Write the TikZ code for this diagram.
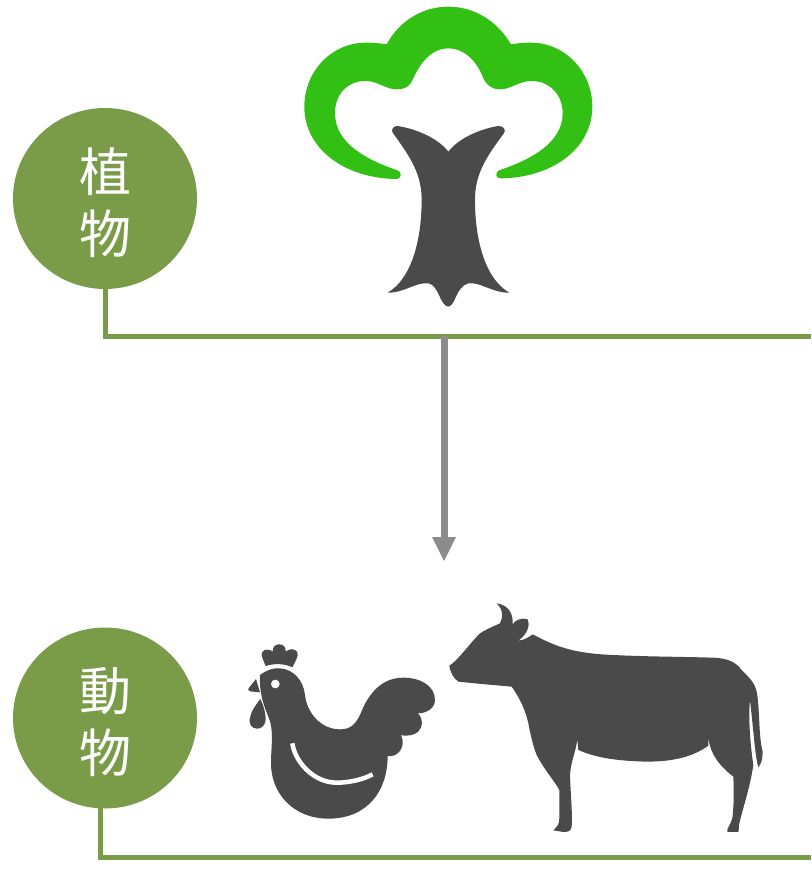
\documentclass[tikz,border=0pt]{standalone}
\usepackage{fontspec}
\newfontfamily\cjk{Noto Sans CJK TC}
\usetikzlibrary{arrows.meta,shapes.geometric}
\definecolor{leaf}{HTML}{7A9C48}
\definecolor{dark}{HTML}{4A4A4A}
\definecolor{crown}{HTML}{32C014}
\definecolor{arrowgray}{HTML}{8C8C8C}
\newcommand\lowchar[1]{\raisebox{-2pt}[\height][0pt]{#1}}
\tikzset{
  badge/.style={ellipse,fill=leaf,draw=none,minimum width=184pt,minimum height=181pt,inner sep=0pt,text=white,align=center,font=\cjk\fontsize{52}{62}\selectfont},
  rail/.style={draw=leaf,line width=5pt,line join=miter},
  flow/.style={draw=arrowgray,line width=7pt,-{Triangle[width=24pt,length=24pt,line width=0pt,fill=arrowgray]}},
  icon/.style={fill=dark,draw=none},
  zoomed/.style={x=0.3333pt,y=-0.3333pt}
}
\begin{document}
\begin{tikzpicture}[x=1pt,y=-1pt]
\useasboundingbox (0,0) rectangle (811,893);
\fill[white] (0,0) rectangle (811,893);
\node[badge] (plant) at (105,198.5) {\lowchar{植}\\\lowchar{物}};
\node[badge] (animal) at (105,718) {\lowchar{動}\\\lowchar{物}};
\coordinate (plantEnd) at (811,336);
\coordinate (animalStart) at (100,806);
\coordinate (animalEnd) at (811,857);
\coordinate (flowStart) at (444,336);
\coordinate (flowEnd) at (444,561);
\draw[rail] (plant.south) |- (plantEnd);
\draw[rail] (animalStart) |- (animalEnd);
\draw[flow] (flowStart) -- (flowEnd);
% tree
\begin{scope}[shift={(290,0)},zoomed]
\fill[crown] (325,512) .. controls (230,480) and (135,430) .. (135,340)
 .. controls (135,280) and (175,243) .. (225,243)
 .. controls (265,243) and (285,268) .. (320,268)
 .. controls (350,268) and (362,255) .. (370,235)
 .. controls (395,180) and (430,145) .. (475,145)
 .. controls (520,145) and (560,180) .. (580,235)
 .. controls (590,255) and (605,268) .. (630,268)
 .. controls (665,268) and (685,243) .. (725,243)
 .. controls (775,243) and (818,280) .. (818,340)
 .. controls (818,430) and (720,480) .. (625,512)
 .. controls (615,520) and (618,535) .. (630,535)
 .. controls (780,535) and (907,450) .. (907,320)
 .. controls (907,210) and (820,128) .. (725,128)
 .. controls (700,128) and (680,130) .. (663,133)
 .. controls (620,60) and (550,20) .. (475,20)
 .. controls (400,20) and (330,60) .. (290,133)
 .. controls (270,130) and (250,128) .. (225,128)
 .. controls (130,128) and (43,210) .. (43,320)
 .. controls (43,450) and (170,537) .. (322,537)
 .. controls (335,535) and (335,518) .. (325,512) -- cycle;
\fill[icon] (475,455) .. controls (510,410) and (580,385) .. (625,378)
 .. controls (640,378) and (648,388) .. (643,398)
 .. controls (590,470) and (555,520) .. (555,600)
 .. controls (555,730) and (590,840) .. (658,878)
 .. controls (610,880) and (570,845) .. (535,850)
 .. controls (515,855) and (505,875) .. (498,890)
 .. controls (490,910) and (482,920) .. (475,920)
 .. controls (465,920) and (455,905) .. (447,885)
 .. controls (440,870) and (430,852) .. (415,850)
 .. controls (380,845) and (340,880) .. (293,878)
 .. controls (360,840) and (395,730) .. (395,600)
 .. controls (395,520) and (360,470) .. (308,398)
 .. controls (303,388) and (310,378) .. (322,378)
 .. controls (370,385) and (440,410) .. (475,455) -- cycle;
\end{scope}
% chicken
\begin{scope}[shift={(235,630)},zoomed]
\fill[icon] (75,135) .. controls (95,120) and (115,113) .. (135,115)
 .. controls (175,118) and (205,150) .. (210,195)
 .. controls (215,245) and (255,298) .. (315,298)
 .. controls (345,298) and (360,285) .. (375,255)
 .. controls (400,190) and (440,143) .. (505,143)
 .. controls (560,143) and (600,170) .. (600,210)
 .. controls (600,235) and (575,250) .. (548,250)
 .. controls (565,265) and (565,290) .. (550,305)
 .. controls (535,318) and (515,318) .. (498,316)
 .. controls (510,340) and (500,365) .. (480,375)
 .. controls (472,379) and (465,379) .. (458,378)
 .. controls (458,480) and (400,566) .. (280,566)
 .. controls (175,566) and (108,490) .. (108,400)
 .. controls (108,350) and (118,300) .. (100,260)
 .. controls (90,235) and (72,195) .. (75,135) -- cycle;
\fill[white] (121,162) circle[radius=13];
\fill[icon] (63,147) -- (75,187) -- (45,184) .. controls (38,182) and (38,176) .. (43,172) -- cycle;
\fill[icon] (76,207) .. controls (85,225) and (93,250) .. (92,270)
 .. controls (90,290) and (75,297) .. (65,296)
 .. controls (50,295) and (42,282) .. (44,268)
 .. controls (47,245) and (62,225) .. (76,207) -- cycle;
\fill[icon] (92,108) .. controls (85,90) and (76,75) .. (82,66)
 .. controls (90,55) and (105,58) .. (113,65)
 .. controls (112,50) and (122,43) .. (132,43)
 .. controls (145,43) and (153,50) .. (152,65)
 .. controls (162,55) and (180,55) .. (187,66)
 .. controls (192,78) and (180,95) .. (172,112)
 .. controls (150,100) and (115,100) .. (92,108) -- cycle;
\draw[white,line width=4.5pt] (172,340) .. controls (180,395) and (235,458) .. (305,458)
 .. controls (345,458) and (385,448) .. (413,433);
\end{scope}
% cow
\begin{scope}[shift={(440,595)},zoomed]
\fill[icon] (28,212) .. controls (55,195) and (85,150) .. (120,115)
 .. controls (140,102) and (165,92) .. (180,85)
 .. controls (190,65) and (190,45) .. (170,25)
 .. controls (205,30) and (220,55) .. (218,88)
 .. controls (225,75) and (245,68) .. (262,72)
 .. controls (272,90) and (262,118) .. (235,137)
 .. controls (255,135) and (268,125) .. (278,118)
 .. controls (340,150) and (390,175) .. (520,180)
 .. controls (620,185) and (720,185) .. (820,188)
 .. controls (870,190) and (890,205) .. (905,225)
 .. controls (930,250) and (945,265) .. (950,290)
 .. controls (960,340) and (955,420) .. (968,470)
 .. controls (968,490) and (965,505) .. (955,517)
 .. controls (945,480) and (942,420) .. (930,315)
 .. controls (925,370) and (930,440) .. (940,510)
 .. controls (930,580) and (908,640) .. (897,690)
 .. controls (896,700) and (897,706) .. (895,711)
 -- (862,711) .. controls (858,703) and (872,690) .. (877,670)
 .. controls (882,630) and (882,590) .. (880,545)
 .. controls (835,510) and (805,470) .. (805,415)
 -- (805,452) .. controls (760,485) and (700,500) .. (620,500)
 .. controls (540,498) and (470,490) .. (415,465)
 -- (412,432) .. controls (408,470) and (392,500) .. (390,540)
 .. controls (392,600) and (398,660) .. (395,695)
 .. controls (394,708) and (385,711) .. (370,711)
 -- (340,706) .. controls (350,695) and (358,690) .. (358,670)
 -- (358,585) .. controls (345,560) and (310,520) .. (290,480)
 .. controls (278,450) and (272,420) .. (265,385)
 .. controls (258,350) and (240,310) .. (215,275)
 .. controls (160,270) and (100,265) .. (55,260)
 .. controls (40,250) and (30,230) .. (28,212) -- cycle;
\end{scope}
\end{tikzpicture}
\end{document}
